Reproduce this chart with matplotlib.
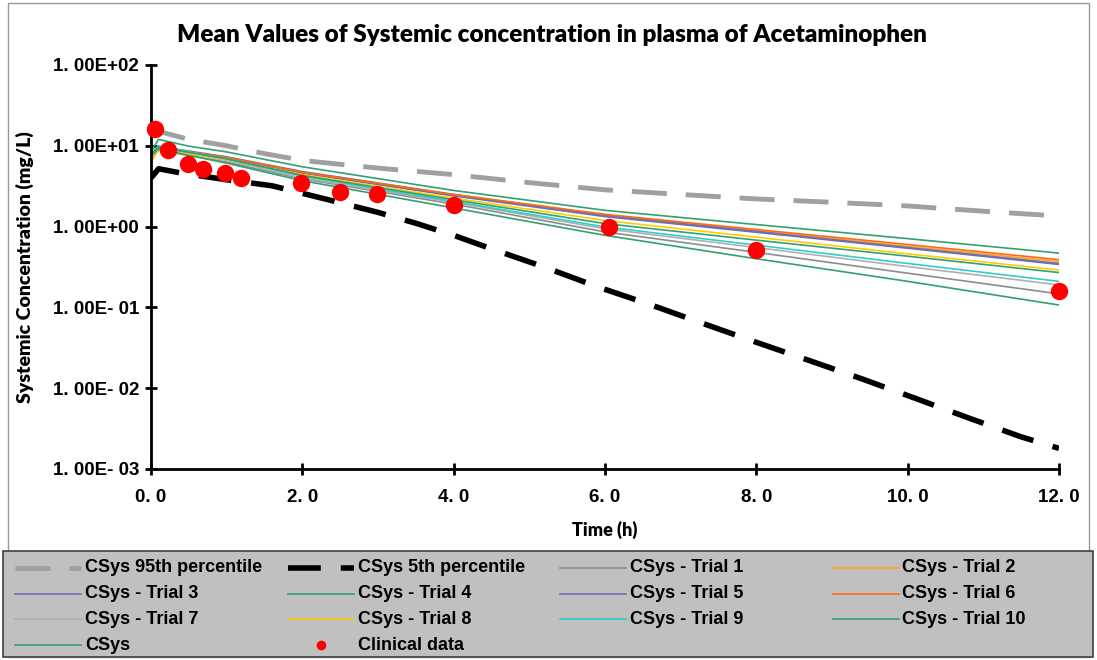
import matplotlib
matplotlib.use("Agg")
import matplotlib.pyplot as plt
from matplotlib.lines import Line2D
from matplotlib.patches import Rectangle

# simulated trials, time points (h)
t_trial = [0, 0.1, 0.5, 1, 2, 4, 6, 8, 10, 12]
trial1 = [7.0, 8.8, 7.6, 6.3, 3.9, 1.90, 0.86, 0.48, 0.265, 0.147]
trial2 = [6.3, 9.0, 8.2, 7.0, 4.6, 2.45, 1.38, 0.89, 0.57, 0.37]
trial3 = [7.2, 9.4, 8.3, 7.0, 4.6, 2.40, 1.33, 0.85, 0.54, 0.34]
trial4 = [8.5, 12.0, 9.9, 8.4, 5.5, 2.80, 1.59, 1.06, 0.71, 0.47]
trial5 = [7.5, 9.8, 8.6, 7.3, 4.8, 2.50, 1.38, 0.87, 0.55, 0.35]
trial6 = [7.0, 9.5, 8.4, 7.2, 4.7, 2.50, 1.42, 0.92, 0.60, 0.39]
trial7 = [7.6, 9.3, 8.0, 6.6, 4.0, 2.00, 0.94, 0.55, 0.32, 0.19]
trial8 = [6.8, 9.0, 8.0, 6.8, 4.4, 2.25, 1.19, 0.74, 0.46, 0.29]
trial9 = [8.2, 10.0, 8.4, 6.9, 4.2, 2.05, 0.99, 0.59, 0.35, 0.21]
trial10 = [7.8, 9.6, 8.3, 6.9, 4.3, 2.15, 1.09, 0.68, 0.43, 0.27]
csys = [7.4, 9.2, 7.6, 6.1, 3.7, 1.70, 0.78, 0.40, 0.21, 0.107]

# percentiles
t_p95 = [0, 0.5, 1, 1.5, 2, 2.5, 3, 4, 5, 6, 7, 8, 9, 10, 11, 12]
p95 = [16.0, 12.0, 10.0, 8.0, 6.6, 5.9, 5.3, 4.4, 3.5, 2.85, 2.5, 2.2, 2.0, 1.8, 1.55, 1.35]
t_p5 = [0, 0.1, 0.4, 1, 1.6, 2.3, 3, 3.5, 4, 4.5, 5.2, 5.9, 6.6, 7.3, 8, 8.7, 9.4, 10.1, 10.8, 11.5, 12]
p5 = [4.0, 5.2, 4.6, 3.8, 3.2, 2.2, 1.5, 1.1, 0.78, 0.53, 0.315, 0.18, 0.108, 0.063,
      0.037, 0.022, 0.013, 0.0075, 0.0043, 0.0025, 0.0018]

# clinical observations
t_obs = [0.05, 0.23, 0.49, 0.69, 0.98, 1.19, 1.98, 2.5, 2.99, 4.0, 6.05, 8.0, 12.0]
c_obs = [16.1, 8.9, 5.9, 5.1, 4.6, 4.05, 3.5, 2.65, 2.5, 1.83, 1.0, 0.51, 0.16]

trial_names = ["CSys - Trial 1", "CSys - Trial 2", "CSys - Trial 3", "CSys - Trial 4",
               "CSys - Trial 5", "CSys - Trial 6", "CSys - Trial 7", "CSys - Trial 8",
               "CSys - Trial 9", "CSys - Trial 10", "CSys"]
trial_colors = ["#8C8C8C", "#FFA31A", "#6E6EB4", "#33A070", "#6E6EB4", "#FF6A10",
                "#B0B0B0", "#FFCC00", "#33CCCC", "#33A070", "#33A070"]
trials = [trial1, trial2, trial3, trial4, trial5, trial6, trial7, trial8, trial9, trial10, csys]

yticks = [1e-3, 1e-2, 1e-1, 1e0, 1e1, 1e2]
ytick_labels = ["1. 00E- 03", "1. 00E- 02", "1. 00E- 01", "1. 00E+00", "1. 00E+01", "1. 00E+02"]
xticks = [0, 2, 4, 6, 8, 10, 12]
xtick_labels = ["0. 0", "2. 0", "4. 0", "6. 0", "8. 0", "10. 0", "12. 0"]

W, H = 1097, 660
fig = plt.figure(figsize=(W / 100, H / 100), dpi=100)
ax = fig.add_axes([151 / W, 1 - 469 / H, (1059 - 151) / W, (469 - 65) / H])

ax.plot(t_p95, p95, color="#A0A0A0", lw=3.5, dashes=(7.2, 3.9), solid_capstyle="butt")
ax.plot(t_p5, p5, color="black", lw=4, dashes=(5.9, 3.6))
for vals, col in zip(trials, trial_colors):
    ax.plot(t_trial, vals, color=col, lw=1.2)
ax.plot(t_obs, c_obs, "o", color="#FF0000", ms=11.5, mec="#FF0000", clip_on=False, zorder=5)

ax.set_yscale("log")
ax.set_ylim(1e-3, 1e2)
ax.set_xlim(0, 12)
ax.set_yticks(yticks)
ax.set_yticklabels(ytick_labels)
ax.set_xticks(xticks)
ax.set_xticklabels(xtick_labels)
ax.minorticks_off()
for s in ["top", "right"]:
    ax.spines[s].set_visible(False)
for s in ["left", "bottom"]:
    ax.spines[s].set_linewidth(2)
ax.tick_params(direction="inout", length=9, width=2)
ax.tick_params(axis="y", pad=4)
ax.tick_params(axis="x", pad=10)
for lab in ax.get_xticklabels() + ax.get_yticklabels():
    lab.set_fontfamily("Liberation Sans")
    lab.set_fontweight("bold")
    lab.set_fontsize(13.5)

ax.set_ylabel("Systemic Concentration (mg/L)", family="Lato", fontweight="heavy", fontsize=14)
ax.yaxis.set_label_coords((34 - 151) / 908, 0.5)
ax.set_xlabel("Time (h)", family="Lato", fontweight="heavy", fontsize=13)
ax.xaxis.set_label_coords((605 - 151) / 908, (469 - 521) / 404)

fig.text(552 / W, 1 - 35 / H, "Mean Values of Systemic concentration in plasma of Acetaminophen",
         ha="center", va="center", family="Lato", fontweight="heavy", fontsize=17.5)

# chart frame and legend box
fig.add_artist(Rectangle((8 / W, 3 / H), 1081 / W, 654 / H, transform=fig.transFigure,
                         fill=False, ec="#9A9A9A", lw=1))
fig.add_artist(Rectangle((3 / W, 3 / H), 1090 / W, (657 - 551) / H, transform=fig.transFigure,
                         fc="#C0C0C0", ec="#404040", lw=1.2))

# legend entries, laid out like the original 4-column table
leg_names = ["CSys 95th percentile", "CSys 5th percentile"] + trial_names + ["Clinical data"]
leg_style = ([dict(color="#A0A0A0", lw=3.5, dashes=(7.2, 3.9)),
              dict(color="black", lw=4, dashes=(5.9, 3.6))]
             + [dict(color=c, lw=1.2) for c in trial_colors])
for i, name in enumerate(leg_names):
    col, row = i % 4, i // 4
    x0 = 15 + 272.5 * col
    y = 568 + 25.7 * row
    if i < len(leg_style):
        fig.add_artist(Line2D([x0 / W, (x0 + 66) / W], [1 - y / H, 1 - y / H],
                              transform=fig.transFigure, **leg_style[i]))
    else:
        fig.add_artist(Line2D([(x0 + 33) / W], [1 - y / H], marker="o", ms=6,
                              color="#FF0000", transform=fig.transFigure))
    fig.text((x0 + 70) / W, 1 - y / H, name, ha="left", va="center",
             family="Liberation Sans", fontweight="bold", fontsize=13)

fig.savefig("out.png", dpi=100)
